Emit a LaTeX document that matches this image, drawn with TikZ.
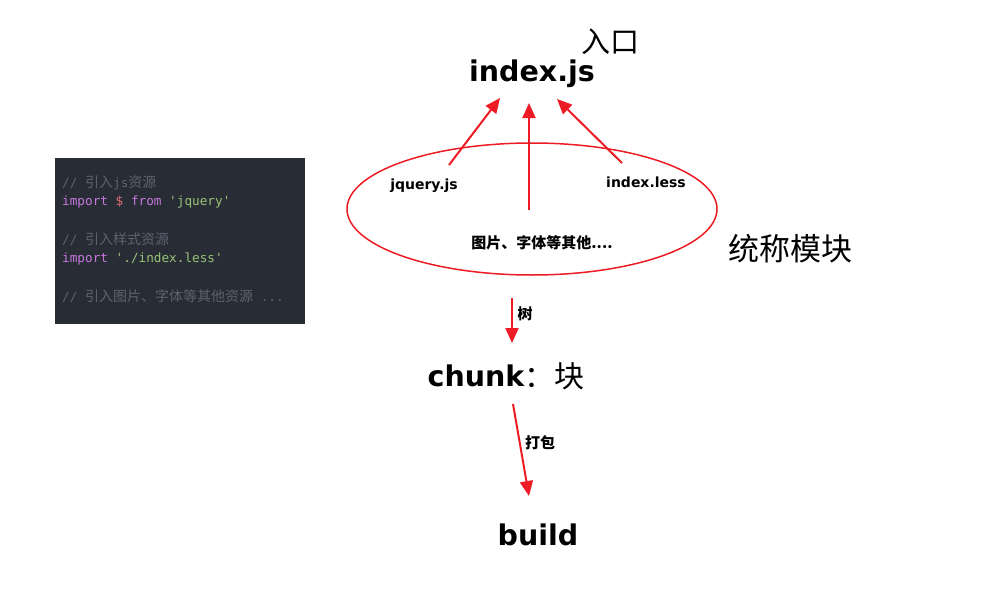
\documentclass[tikz,border=0pt]{standalone}
\usepackage{fontspec}
\setmainfont{DejaVu Sans}
\setmonofont{DejaVu Sans Mono}
\newfontfamily\cjk{Noto Sans CJK SC}
\usetikzlibrary{arrows.meta,shapes.geometric}
\definecolor{redarrow}{HTML}{ED1C24}
\definecolor{codebg}{HTML}{282C34}
\definecolor{codecomment}{HTML}{5C6370}
\definecolor{codekey}{HTML}{C678DD}
\definecolor{codevar}{HTML}{E06C75}
\definecolor{codestr}{HTML}{98C379}
\tikzset{
  flow/.style={draw=redarrow, line width=2pt, -{Triangle[length=15pt,width=13pt]}},
  big/.style={font=\fontsize{28.5}{30}\selectfont\bfseries, inner sep=0pt},
  small/.style={font=\fontsize{14}{16}\selectfont\bfseries, inner sep=0pt},
  cjksmall/.style={font=\fontsize{15}{17}\selectfont\cjk\bfseries, inner sep=0pt},
  note/.style={font=\fontsize{31}{33}\selectfont\cjk, inner sep=0pt},
  codeline/.style={font=\fontsize{12.7}{14}\selectfont\ttfamily, anchor=base west, inner sep=0pt},
}
\begin{document}
\begin{tikzpicture}[x=1pt,y=-1pt]
  \useasboundingbox (0,0) rectangle (1002,597);
  % code snippet
  \fill[codebg] (55,158) rectangle (305,324);
  \node[codeline, text=codecomment] (c1) at (62,187) {// {\cjk\fontsize{14}{14}\selectfont 引入}js{\cjk\fontsize{14}{14}\selectfont 资源}};
  \node[codeline] (c2) at (62,205) {\textcolor{codekey}{import} \textcolor{codevar}{\$} \textcolor{codekey}{from} \textcolor{codestr}{'jquery'}};
  \node[codeline, text=codecomment] (c3) at (62,244) {// {\cjk\fontsize{14}{14}\selectfont 引入样式资源}};
  \node[codeline] (c4) at (62,262) {\textcolor{codekey}{import} \textcolor{codestr}{'./index.less'}};
  \node[codeline, text=codecomment] (c5) at (62,301) {// {\cjk\fontsize{14}{14}\selectfont 引入图片、字体等其他资源} ...};

  % entry
  \node[big] (entry) at (532,74) {index.js};
  \node[note, font=\fontsize{29}{31}\selectfont\cjk] (entrynote) at (610,42) {入口};

  % modules
  \node[ellipse, draw=redarrow, line width=1.5pt, minimum width=370pt, minimum height=132pt] (group) at (532,209) {};
  \node[small] (jq) at (424,186) {jquery.js};
  \node[small] (less) at (646,182) {index.less};
  \node[cjksmall] (other) at (542,243) {图片、字体等其他....};
  \node[note] (groupnote) at (790,249) {统称模块};

  \coordinate (jqtop) at (449,165);
  \coordinate (othertop) at (529,210);
  \coordinate (lesstop) at (622,163);
  \coordinate (in1) at (500,98);
  \coordinate (in2) at (529,103);
  \coordinate (in3) at (557,99);
  \draw[flow] (jqtop) -- (in1);
  \draw[flow] (othertop) -- (in2);
  \draw[flow] (lesstop) -- (in3);

  % chunk and build
  \node[big] (chunk) at (476,376) {chunk};
  \node[note, font=\fontsize{30}{32}\selectfont\cjk, anchor=west] (chunknote) at (chunk.east) {：块};
  \node[big] (build) at (538,535) {build};

  \coordinate (t1) at (512,298);
  \coordinate (t2) at (512,343);
  \draw[flow] (t1) -- (t2);
  \node[cjksmall] (treelabel) at (525,314) {树};
  \coordinate (p1) at (513,404);
  \coordinate (p2) at (529,496);
  \draw[flow] (p1) -- (p2);
  \node[cjksmall] (packlabel) at (540,443) {打包};
\end{tikzpicture}
\end{document}
